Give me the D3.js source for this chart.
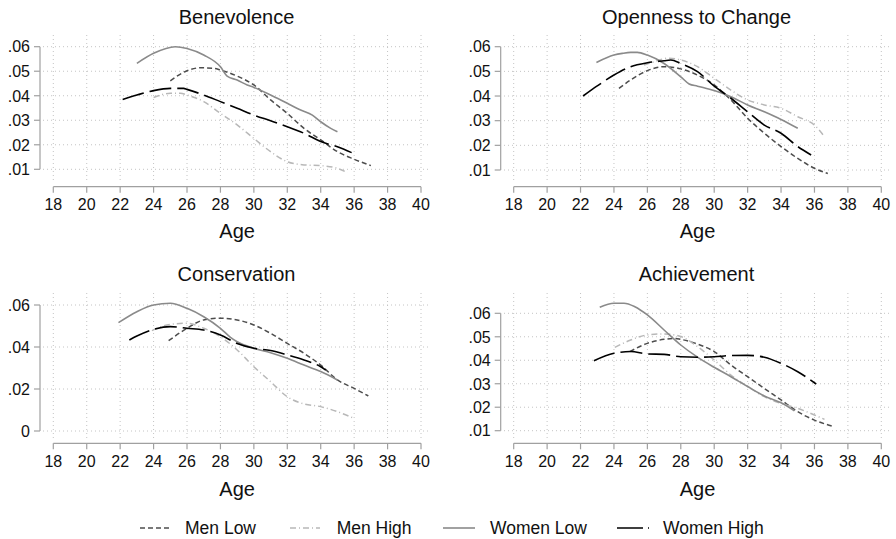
<!DOCTYPE html>
<html>
<head>
<meta charset="utf-8">
<script src="https://cdn.jsdelivr.net/npm/d3@7"></script>
<style>
  html, body { margin: 0; padding: 0; background: #fff; }
  svg { display: block; font-family: "Liberation Sans", Arial, Helvetica, sans-serif; }
</style>
</head>
<body>
<svg id="chart" width="896" height="539"></svg>
<script>
// ---------- DATA ----------
const panelTitles = ["Benevolence", "Openness to Change", "Conservation", "Achievement"];
const seriesNames = ["Men Low", "Men High", "Women Low", "Women High"];
const xTicks = [18, 20, 22, 24, 26, 28, 30, 32, 34, 36, 38, 40];
const yTicksA = [0.01, 0.02, 0.03, 0.04, 0.05, 0.06];
const yTicksC = [0, 0.02, 0.04, 0.06];

// Benevolence
const benMenLow = [[25,.0461],[26,.0502],[26.8,.0514],[27.6,.0512],[28,.0505],[29,.048],[30,.0444],[31,.0383],[32,.0328],[33,.0267],[34,.022],[35,.0172],[36,.0141],[37,.0115]];
const benMenHigh = [[24,.0393],[25,.041],[25.6,.041],[26,.0403],[27,.0376],[28,.0328],[29,.0281],[30,.0226],[31,.0172],[32,.0131],[33,.0118],[34,.0115],[35,.0104],[35.6,.0086]];
const benWomenLow = [[23,.0532],[24,.0573],[25.3,.060],[26,.0593],[27,.0566],[28,.0518],[28.4,.048],[29,.0464],[29.6,.0444],[30,.0434],[31,.0403],[32,.0369],[32.8,.0342],[33.5,.0321],[34,.0294],[34.6,.0267],[35,.0253]];
const benWomenHigh = [[22.15,.0385],[23,.0403],[24,.0421],[25,.043],[25.8,.043],[26,.0426],[27,.0403],[28,.0376],[29,.0349],[30,.0321],[31,.0298],[32,.0274],[33,.0247],[34,.0213],[35,.0192],[35.85,.0168]];

// Openness to Change
const opnMenLow = [[24.3,.0431],[25,.0465],[26,.0503],[27,.0519],[28,.051],[29,.0485],[30,.0445],[31,.0384],[32,.031],[33,.0249],[34,.0195],[35,.0147],[36,.0107],[36.8,.0086]];
const opnMenHigh = [[25.8,.0526],[26.4,.0539],[27.2,.0553],[28,.0546],[29,.0519],[30,.0472],[31,.0424],[32,.0384],[33,.0364],[34,.035],[35,.0316],[36,.0282],[36.6,.0235]];
const opnWomenLow = [[22.95,.0536],[24,.0566],[24.5,.0573],[25,.0577],[25.4,.0577],[26,.0566],[27,.0532],[28,.0478],[28.5,.0449],[29,.044],[30,.0422],[31,.0397],[32,.0364],[33,.0336],[34,.0305],[35,.0269]];
const opnWomenHigh = [[22.15,.04],[23,.0441],[24,.0485],[25,.0519],[26,.0535],[27,.0543],[27.4,.0546],[28,.0532],[29,.0499],[30,.044],[31,.0391],[32,.0336],[33,.0282],[34,.0249],[35,.0195],[35.8,.0161]];

// Conservation
const conMenLow = [[24.9,.043],[26,.0489],[27,.0529],[28,.0537],[29,.0529],[30,.0505],[31,.0465],[32,.0417],[33,.037],[34,.0314],[35,.0243],[36,.0203],[36.85,.0167]];
const conMenHigh = [[23.9,.0478],[25,.0508],[26,.0513],[27,.0489],[28,.0449],[29,.0386],[30,.0306],[31,.0235],[32,.0163],[33,.0129],[34,.0116],[35,.0092],[36,.006]];
const conWomenLow = [[21.9,.0516],[23,.0568],[24,.06],[25,.0608],[26,.0584],[27,.0544],[28,.0489],[28.6,.0446],[29,.0425],[30,.0394],[31,.0373],[32,.0346],[33,.0314],[34,.0283],[35,.0243]];
const conWomenHigh = [[22.55,.0433],[23,.0452],[24,.0484],[25,.0497],[26,.0489],[27,.0481],[28,.0457],[29,.0417],[30,.0394],[31,.0383],[32,.0362],[33,.0338],[34,.0306],[34.3,.029]];

// Achievement
const achMenLow = [[24.95,.0437],[26,.0472],[27,.0489],[27.65,.0493],[28,.0489],[29,.0469],[30,.0437],[31,.038],[32,.033],[33,.028],[34,.0231],[35,.0181],[36,.0145],[37.2,.0117]];
const achMenHigh = [[24.05,.0455],[25,.0486],[26,.0508],[27,.0512],[28,.0501],[29,.0458],[30,.0401],[31,.0337],[32,.0288],[33,.0245],[34,.0216],[35,.0195],[36,.0167],[36.6,.0148]];
const achWomenLow = [[23.15,.0626],[24,.0643],[24.6,.0643],[25.25,.0628],[26,.0593],[27,.0529],[28,.0465],[29,.0413],[30,.037],[31,.033],[32,.0288],[33,.0248],[34,.0219],[34.8,.0185]];
const achWomenHigh = [[22.8,.0398],[24,.043],[25,.0437],[26,.0427],[27,.0425],[28,.0415],[29,.0413],[30,.0415],[31,.042],[32,.0421],[33,.0413],[34,.0387],[35,.0351],[36.1,.0299]];

// ---------- STYLES / LAYOUT ----------
const seriesStyle = [
  { color: "#4d4d4d", dash: "5,3", width: 1.5 },
  { color: "#b8b8b8", dash: "6,3,1,3", width: 1.5 },
  { color: "#8a8a8a", dash: null, width: 1.6 },
  { color: "#000000", dash: "22,6", width: 1.6 }
];

const panels = [
  { title: panelTitles[0], series: [benMenLow, benMenHigh, benWomenLow, benWomenHigh], yTicks: yTicksA,
    x0: 53.3, x1: 421, yDom: [0.01, 0.06], yPix: [169.3, 46.7], axisX: 40, axisY: 186.7,
    gridL: 43, gridR: 430, gridT: 35, gridB: 182, titleY: 24, tickLabY: 210, ageY: 237.5 },
  { title: panelTitles[1], series: [opnMenLow, opnMenHigh, opnWomenLow, opnWomenHigh], yTicks: yTicksA,
    x0: 513.7, x1: 881.3, yDom: [0.01, 0.06], yPix: [170, 46.7], axisX: 500.7, axisY: 186.7,
    gridL: 504, gridR: 889, gridT: 35, gridB: 182, titleY: 24, tickLabY: 210, ageY: 237.5 },
  { title: panelTitles[2], series: [conMenLow, conMenHigh, conWomenLow, conWomenHigh], yTicks: yTicksC,
    x0: 53.3, x1: 421, yDom: [0, 0.06], yPix: [431, 305], axisX: 40, axisY: 443.3,
    gridL: 43, gridR: 430, gridT: 293, gridB: 439, titleY: 280.7, tickLabY: 467.3, ageY: 496 },
  { title: panelTitles[3], series: [achMenLow, achMenHigh, achWomenLow, achWomenHigh], yTicks: yTicksA,
    x0: 513.7, x1: 881.3, yDom: [0.01, 0.06], yPix: [430.7, 313.3], axisX: 500.7, axisY: 443.3,
    gridL: 504, gridR: 889, gridT: 293, gridB: 439, titleY: 280.7, tickLabY: 467.3, ageY: 496 }
];

const svg = d3.select("#chart");
const axisColor = "#a0a0a0";
const gridColor = "#c4c4c4";
const fmtY = d => d === 0 ? "0" : d3.format(".2f")(d).replace(/^0/, "");

panels.forEach(p => {
  const x = d3.scaleLinear().domain([18, 40]).range([p.x0, p.x1]);
  const y = d3.scaleLinear().domain(p.yDom).range(p.yPix);
  const g = svg.append("g");

  // grid
  g.selectAll(".hg").data(p.yTicks).enter().append("line")
    .attr("x1", p.gridL).attr("x2", p.gridR)
    .attr("y1", d => y(d)).attr("y2", d => y(d))
    .attr("stroke", gridColor).attr("stroke-width", 1).attr("stroke-dasharray", "1,3");
  g.selectAll(".vg").data(xTicks).enter().append("line")
    .attr("x1", d => x(d)).attr("x2", d => x(d))
    .attr("y1", p.gridT).attr("y2", p.gridB)
    .attr("stroke", gridColor).attr("stroke-width", 1).attr("stroke-dasharray", "1,3");

  // y axis
  const yTop = y(d3.max(p.yTicks)), yBot = y(d3.min(p.yTicks));
  g.append("line").attr("x1", p.axisX).attr("x2", p.axisX).attr("y1", yTop).attr("y2", yBot)
    .attr("stroke", axisColor).attr("stroke-width", 1.2);
  g.selectAll(".yt").data(p.yTicks).enter().append("line")
    .attr("x1", p.axisX - 6).attr("x2", p.axisX).attr("y1", d => y(d)).attr("y2", d => y(d))
    .attr("stroke", axisColor).attr("stroke-width", 1.2);
  g.selectAll(".yl").data(p.yTicks).enter().append("text")
    .attr("x", p.axisX - 10).attr("y", d => y(d)).attr("dy", "0.36em")
    .attr("text-anchor", "end").attr("font-size", 16).attr("fill", "#111")
    .text(fmtY);

  // x axis
  g.append("line").attr("x1", x(18)).attr("x2", x(40)).attr("y1", p.axisY).attr("y2", p.axisY)
    .attr("stroke", axisColor).attr("stroke-width", 1.2);
  g.selectAll(".xt").data(xTicks).enter().append("line")
    .attr("x1", d => x(d)).attr("x2", d => x(d)).attr("y1", p.axisY).attr("y2", p.axisY + 6)
    .attr("stroke", axisColor).attr("stroke-width", 1.2);
  g.selectAll(".xl").data(xTicks).enter().append("text")
    .attr("x", d => x(d)).attr("y", p.tickLabY)
    .attr("text-anchor", "middle").attr("font-size", 16).attr("fill", "#111")
    .text(d => d);

  // axis title & panel title
  const cx = (p.gridL + p.gridR) / 2;
  g.append("text").attr("x", (x(18) + x(40)) / 2).attr("y", p.ageY)
    .attr("text-anchor", "middle").attr("font-size", 20).attr("fill", "#111").text("Age");
  g.append("text").attr("x", cx).attr("y", p.titleY)
    .attr("text-anchor", "middle").attr("font-size", 20).attr("fill", "#111").text(p.title);

  // lines
  const line = d3.line().x(d => x(d[0])).y(d => y(d[1])).curve(d3.curveMonotoneX);
  p.series.forEach((s, i) => {
    const st = seriesStyle[i];
    g.append("path").datum(s).attr("d", line)
      .attr("fill", "none").attr("stroke", st.color).attr("stroke-width", st.width)
      .attr("stroke-dasharray", st.dash);
  });
});

// legend
const legendItems = [
  { lx0: 140, lx1: 172, tx: 185 },
  { lx0: 290, lx1: 320, tx: 336.7 },
  { lx0: 443, lx1: 475, tx: 490 },
  { lx0: 617, lx1: 649, tx: 663 }
];
const legY = 528;
const lg = svg.append("g");
seriesNames.forEach((name, i) => {
  const st = seriesStyle[i];
  const it = legendItems[i];
  lg.append("line").attr("x1", it.lx0).attr("x2", it.lx1).attr("y1", legY).attr("y2", legY)
    .attr("stroke", st.color).attr("stroke-width", st.width)
    .attr("stroke-dasharray", i === 3 ? "26,5,1,4" : st.dash);
  lg.append("text").attr("x", it.tx).attr("y", legY).attr("dy", "0.36em")
    .attr("font-size", 17.5).attr("fill", "#111").text(name);
});
</script>
</body>
</html>
